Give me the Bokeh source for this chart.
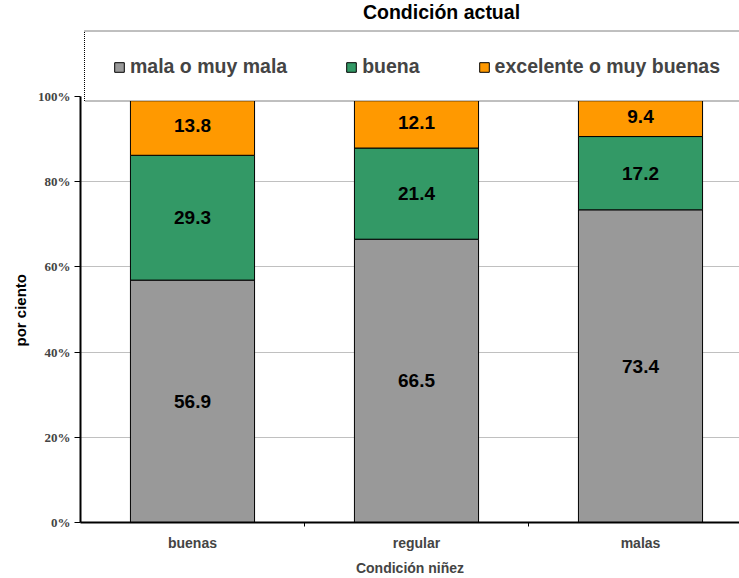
from bokeh.plotting import figure
from bokeh.models import (ColumnDataSource, Range1d, FixedTicker, PrintfTickFormatter,
                          Label, Title)
from bokeh.core.properties import value
from bokeh.embed import file_html
from bokeh.resources import INLINE

# ---- data ----
categories = ["buenas", "regular", "malas"]
mala = [56.9, 66.5, 73.4]
buena = [29.3, 21.4, 17.2]
excelente = [13.8, 12.1, 9.4]
series_names = ["mala o muy mala", "buena", "excelente o muy buenas"]
colors = ["#999999", "#339966", "#FF9900"]
y_ticks = [0, 20, 40, 60, 80, 100]

title_text = "Condición actual"
x_title = "Condición niñez"
y_title = "por ciento"

FONT = "Liberation Sans"

# ---- layout constants (pixels) ----
W, H = 739, 578
LEFT, BOTTOM = 80, 56
frame_w = W - LEFT
frame_h = H - BOTTOM
px_per_cat = 224.0
px_per_pct = 4.26
x_end = frame_w / px_per_cat
y_end = frame_h / px_per_pct


def px_x(px):
    return (px - LEFT) / px_per_cat


def px_y(py):
    return (frame_h - py) / px_per_pct


xs = [i + 0.5 for i in range(len(categories))]
source = ColumnDataSource(dict(x=xs, mala=mala, buena=buena, excelente=excelente))

p = figure(width=W, height=H, title=None, toolbar_location=None, output_backend="svg",
           x_range=Range1d(0, x_end), y_range=Range1d(0, y_end),
           min_border_left=LEFT, min_border_right=0, min_border_top=0,
           min_border_bottom=BOTTOM, background_fill_color="white",
           border_fill_color="white")
p.outline_line_color = None

p.vbar_stack(["mala", "buena", "excelente"], x="x", width=0.554, source=source,
             fill_color=colors, line_color="black", line_width=1,
             legend_label=series_names)

# value labels
lx, ly, lt = [], [], []
for i in range(len(categories)):
    base = 0.0
    for vals in (mala, buena, excelente):
        v = vals[i]
        lx.append(xs[i])
        ly.append(base + v / 2.0)
        lt.append("%.1f" % v)
        base += v
lsrc = ColumnDataSource(dict(x=lx, y=ly, t=lt))
p.text(x="x", y="y", text="t", source=lsrc, text_align="center", text_baseline="middle",
       text_font=value(FONT), text_font_size="19px", text_font_style="bold",
       text_color="black")

# legend frame (white box with dotted border, running off the right edge)
p.quad(left=[px_x(84)], right=[x_end + 1], bottom=[px_y(100.5)], top=[px_y(30.5)],
       fill_color="white", line_color="black", line_dash="1 1", line_width=1)

# axes
ya = p.yaxis[0]
ya.bounds = (0, 100)
ya.ticker = FixedTicker(ticks=y_ticks)
ya.formatter = PrintfTickFormatter(format="%d%%")
ya.major_tick_out = 6
ya.major_tick_in = 0
ya.minor_tick_out = 0
ya.minor_tick_in = 0
ya.axis_line_width = 2
ya.major_label_text_font = "Liberation Serif"
ya.major_label_text_font_style = "bold"
ya.major_label_text_font_size = "13px"
ya.major_label_standoff = 4

xa = p.xaxis[0]
xa.ticker = FixedTicker(ticks=xs, minor_ticks=[1, 2])
xa.major_label_overrides = {x: c for x, c in zip(xs, categories)}
xa.major_tick_out = 0
xa.major_tick_in = 0
xa.minor_tick_out = 4
xa.minor_tick_in = 0
xa.axis_line_width = 2
xa.major_label_text_font = FONT
xa.major_label_text_font_style = "bold"
xa.major_label_text_font_size = "14px"
xa.major_label_standoff = 8
xa.axis_label = x_title
xa.axis_label_text_font = FONT
xa.axis_label_text_font_style = "bold"
xa.axis_label_text_font_size = "14px"
xa.axis_label_standoff = 6

p.xgrid.grid_line_color = None
p.ygrid.ticker = FixedTicker(ticks=y_ticks[1:-1])
p.ygrid.grid_line_color = "#c0c0c0"
p.ygrid.grid_line_width = 1

# y axis title, centred on the 0-100 span as in the original
# (text starts ~176 px above the frame bottom)
p.add_layout(Title(text=y_title, align="left", offset=176, standoff=11,
                   text_font=FONT, text_font_style="bold", text_font_size="15px",
                   text_color="black"), "left")

# legend items
lg = p.legend[0]
lg.orientation = "horizontal"
lg.location = (113 - LEFT, frame_h - 78)
lg.margin = 0
lg.padding = 0
lg.spacing = 58
lg.glyph_width = 12
lg.glyph_height = 12
lg.label_standoff = 5
lg.label_text_font = FONT
lg.label_text_font_style = "bold"
lg.label_text_font_size = "19.5px"
lg.border_line_color = None
lg.background_fill_alpha = 0.0

# title
p.add_layout(Label(x=px_x(441), y=y_end, text=title_text,
                   text_align="center", text_baseline="top", text_font=FONT,
                   text_font_style="bold", text_font_size="19.5px", text_color="black"))

open("out.html", "w").write(file_html(p, INLINE))
